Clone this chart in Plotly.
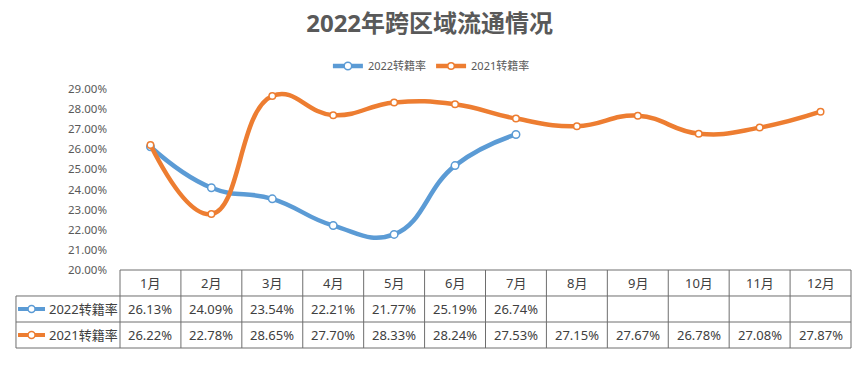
import plotly.graph_objects as go

months = ["1月", "2月", "3月", "4月", "5月", "6月", "7月", "8月", "9月", "10月", "11月", "12月"]
rate_2022 = [26.13, 24.09, 23.54, 22.21, 21.77, 25.19, 26.74, None, None, None, None, None]
rate_2021 = [26.22, 22.78, 28.65, 27.70, 28.33, 28.24, 27.53, 27.15, 27.67, 26.78, 27.08, 27.87]
series_names = ["2022转籍率", "2021转籍率"]
series_colors = ["#5B9BD5", "#ED7D31"]
y_ticks = [20, 21, 22, 23, 24, 25, 26, 27, 28, 29]

FONT = "Noto Sans, Noto Sans CJK SC, sans-serif"
TXT = "#404040"
GRID = "#6e6e6e"

fig = go.Figure()
xs = list(range(len(months)))
marker_sizes = [7.5, 6.5]
for name, vals, col, ms in zip(series_names, [rate_2022, rate_2021], series_colors, marker_sizes):
    fig.add_trace(go.Scatter(
        x=xs, y=vals, name=name, mode="lines+markers",
        line=dict(color=col, width=4.5, shape="spline", smoothing=1.3),
        marker=dict(size=ms, color="white", line=dict(color=col, width=1.5)),
        connectgaps=False, cliponaxis=False, hoverinfo="skip",
    ))

n = len(months)
row_y = [0, -0.1436, -0.2873, -0.431]
label_left = -0.1423
shapes = []
line = dict(color=GRID, width=1)
shapes.append(dict(type="line", xref="x domain", yref="y domain", x0=0, x1=1, y0=row_y[0], y1=row_y[0], line=line))
for yy in row_y[1:]:
    shapes.append(dict(type="line", xref="x domain", yref="y domain", x0=label_left, x1=1, y0=yy, y1=yy, line=line))
for k in range(n + 1):
    shapes.append(dict(type="line", xref="x domain", yref="y domain", x0=k / n, x1=k / n, y0=row_y[0], y1=row_y[3], line=line))
shapes.append(dict(type="line", xref="x domain", yref="y domain", x0=label_left, x1=label_left, y0=row_y[1], y1=row_y[3], line=line))

annotations = []
for i, m in enumerate(months):
    annotations.append(dict(x=i, xref="x", y=(row_y[0] + row_y[1]) / 2, yref="y domain", text=m,
                            xanchor="center", yanchor="middle",
                            showarrow=False, font=dict(family=FONT, size=13, color=TXT)))
for r, (vals, name, col) in enumerate(zip([rate_2022, rate_2021], series_names, series_colors)):
    yc = (row_y[r + 1] + row_y[r + 2]) / 2
    for i, v in enumerate(vals):
        if v is None:
            continue
        annotations.append(dict(x=i, xref="x", y=yc, yref="y domain", text=f"{v:.2f}%",
                                xanchor="center", yanchor="middle",
                                showarrow=False, font=dict(family=FONT, size=13, color=TXT)))
    annotations.append(dict(x=-0.1, xref="x domain", y=yc, yref="y domain", text=name, xanchor="left",
                            yanchor="middle",
                            showarrow=False, font=dict(family=FONT, size=13, color=TXT)))
    shapes.append(dict(type="line", xref="x domain", yref="y domain", x0=-0.1395, x1=-0.1026, y0=yc, y1=yc,
                       line=dict(color=col, width=4)))
    shapes.append(dict(type="circle", xref="x domain", yref="y domain", xsizemode="pixel", ysizemode="pixel",
                       xanchor=-0.121, yanchor=yc, x0=-3.5, x1=3.5, y0=-3.5, y1=3.5,
                       fillcolor="white", line=dict(color=col, width=1.5)))

fig.update_layout(
    width=868, height=371,
    margin=dict(l=120, r=17, t=89, b=101),
    paper_bgcolor="white", plot_bgcolor="white",
    title=dict(text="<b>2022年跨区域流通情况</b>", x=0.495, xanchor="center", y=1 - 24 / 371, yanchor="middle",
               font=dict(family=FONT, size=24, color="#595959")),
    legend=dict(orientation="h", x=0.426, xanchor="center", y=1.127, yanchor="middle",
                font=dict(family=FONT, size=11, color="#595959"), bgcolor="rgba(0,0,0,0)"),
    xaxis=dict(range=[-0.5, n - 0.5], showticklabels=False, showgrid=False, zeroline=False,
               showline=False, ticks=""),
    yaxis=dict(range=[20, 29], tickvals=y_ticks, ticktext=[f"{t:.2f}%" for t in y_ticks],
               showgrid=False, zeroline=False, showline=False, ticks="", ticklabelstandoff=12,
               tickfont=dict(family=FONT, size=11.5, color="#595959")),
    shapes=shapes, annotations=annotations, showlegend=True, hovermode=False,
)
fig.write_html("out.html", config={"displayModeBar": False},
               post_script="document.body.style.margin='0';document.body.style.overflow='hidden';")
